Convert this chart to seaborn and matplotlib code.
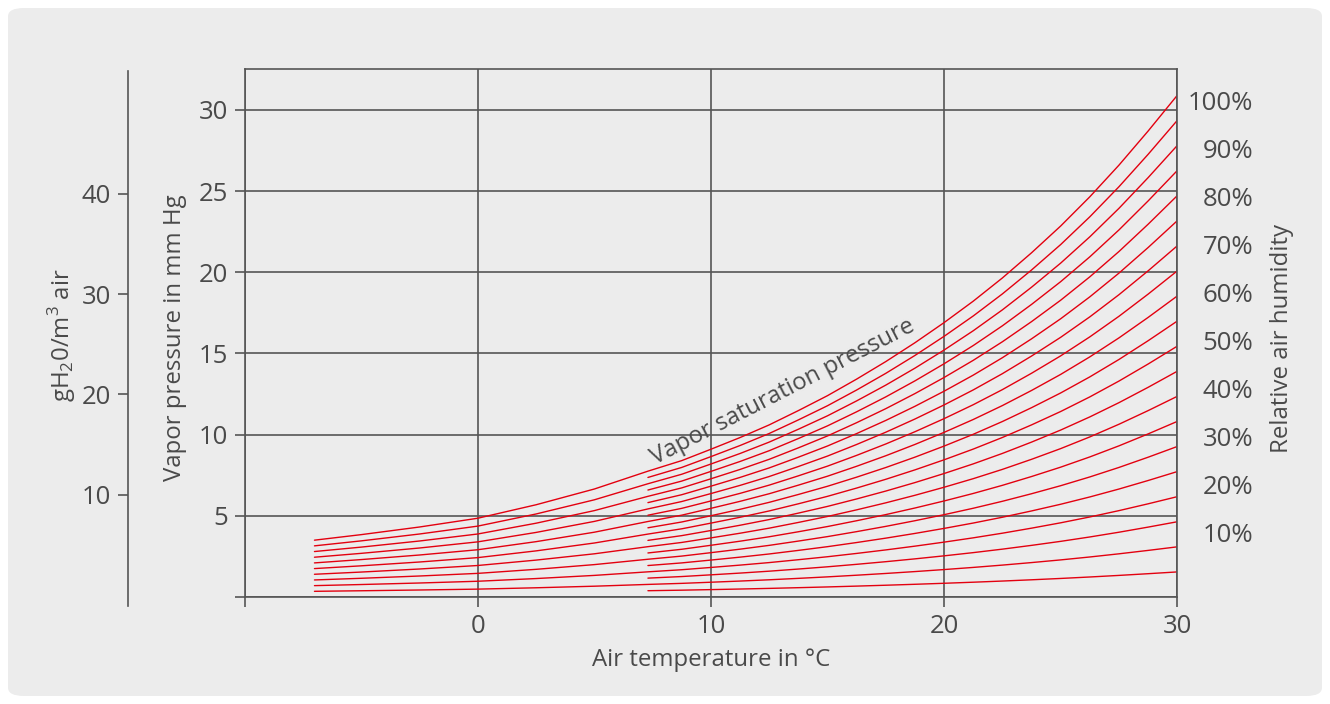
import numpy as np
import pandas as pd
import seaborn as sns
import matplotlib.pyplot as plt
from matplotlib.patches import FancyBboxPatch

# saturation (100 %) curve, mm Hg
temps = [-7, -5, -2.5, 0, 2.5, 5, 7.3, 8.75, 10, 11.25, 12.5, 13.75, 15, 16.25, 17.5,
         18.75, 20, 21.25, 22.5, 23.75, 25, 26.25, 27.5, 28.75, 30]
sat_mmhg = [3.5, 3.84, 4.31, 4.85, 5.68, 6.65, 7.75, 8.4, 9.1, 9.82, 10.6, 11.48, 12.4,
            13.42, 14.5, 15.66, 16.9, 18.22, 19.65, 21.2, 22.85, 24.65, 26.6, 28.7, 30.9]
rh_full = [10, 20, 30, 40, 50, 60, 70, 80, 90, 100]   # drawn from -7 degC
rh_half = [5, 15, 25, 35, 45, 55, 65, 75, 85, 95]     # drawn from 7.3 degC
rh_labels = ['100%', '90%', '80%', '70%', '60%', '50%', '40%', '30%', '20%', '10%']
x_ticks = [-10, 0, 10, 20, 30]
x_ticklabels = ['', '0', '10', '20', '30']
y_ticks = [0, 5, 10, 15, 20, 25, 30]
y_ticklabels = ['', '5', '10', '15', '20', '25', '30']
g_ticks = [10, 20, 30, 40]

RED = '#e3000f'
GREY = '#555555'
TXT = '#4a4a4a'
PANEL = '#ececec'
FS = 17.3
FS_NUM = 18.5

sns.set_theme(style='white')
plt.rcParams['font.family'] = ['Open Sans', 'DejaVu Sans']
plt.rcParams['mathtext.fontset'] = 'custom'
plt.rcParams['mathtext.rm'] = 'Open Sans'

rows = []
for rh in rh_full:
    for t, s in zip(temps, sat_mmhg):
        rows.append(dict(curve=f'f{rh}', temp=t, p=s * rh / 100))
for rh in rh_half:
    for t, s in zip(temps, sat_mmhg):
        if t >= 7.3:
            rows.append(dict(curve=f'h{rh}', temp=t, p=s * rh / 100))
df = pd.DataFrame(rows)

fig = plt.figure(figsize=(13.3, 7.04), dpi=100)
fig.patch.set_facecolor('white')
fig.patches.append(FancyBboxPatch((8 / 1330, 8 / 704), 1314 / 1330, 688 / 704,
                                  boxstyle='round,pad=0,rounding_size=0.012',
                                  transform=fig.transFigure, facecolor=PANEL,
                                  edgecolor='none', zorder=-10))

ax = fig.add_axes([244.5 / 1330, 1 - 597 / 704, 932.8 / 1330, 527.7 / 704])
ax.set_facecolor('none')
sns.lineplot(data=df, x='temp', y='p', units='curve', estimator=None,
             color=RED, lw=1.0, ax=ax, legend=False, sort=False)
ax.set_xlim(-10, 30)
ax.set_ylim(0, 32.5)
ax.set_xticks(x_ticks)
ax.set_xticklabels(x_ticklabels)
ax.set_yticks(y_ticks)
ax.set_yticklabels(y_ticklabels)
ax.grid(True, color=GREY, lw=1.2)
ax.set_axisbelow(True)
for sp in ax.spines.values():
    sp.set_color(GREY)
    sp.set_linewidth(1.2)
    sp.set_visible(True)
ax.tick_params(axis='both', direction='out', length=7, width=1.2, color=GREY,
               labelsize=FS_NUM, labelcolor=TXT, pad=5, left=True, bottom=True)
ax.set_xlabel('Air temperature in °C', fontsize=FS, color=TXT, labelpad=7)
ax.set_ylabel('')
ax.text(-0.0745, 0.491, 'Vapor pressure in mm Hg', transform=ax.transAxes,
        rotation=90, ha='center', va='center', fontsize=FS, color=TXT)

ax.text(13.1, 12.62, 'Vapor saturation pressure', rotation=27.3,
        rotation_mode='anchor', ha='center', va='center', fontsize=FS, color=TXT)

for i, lab in enumerate(rh_labels):
    ax.text(1.0812, 0.936 - i * 0.091, lab, transform=ax.transAxes,
            ha='right', va='center', fontsize=FS_NUM, color=TXT)
ax.text(1.1122, 0.489, 'Relative air humidity', transform=ax.transAxes,
        rotation=90, ha='center', va='center', fontsize=FS, color=TXT)

# second scale: grams of water per cubic metre
ax2 = fig.add_axes([127.5 / 1330, 1 - 606 / 704, 0.001, 535.3 / 704])
ax2.set_facecolor('none')
ax2.set_ylim(-1.12, 52.3)
ax2.set_xticks([])
ax2.set_yticks(g_ticks)
for side in ['top', 'right', 'bottom']:
    ax2.spines[side].set_visible(False)
ax2.spines['left'].set_color(GREY)
ax2.spines['left'].set_linewidth(1.2)
ax2.tick_params(axis='y', direction='out', length=7, width=1.2, color=GREY,
                labelsize=FS_NUM, labelcolor=TXT, pad=5, left=True)
fig.text(62 / 1330, 1 - 335 / 704, r'gH$_\mathregular{2}$0/m$^\mathregular{3}$ air',
         rotation=90, ha='center', va='center', fontsize=FS, color=TXT)

fig.savefig('out.png', dpi=100)
